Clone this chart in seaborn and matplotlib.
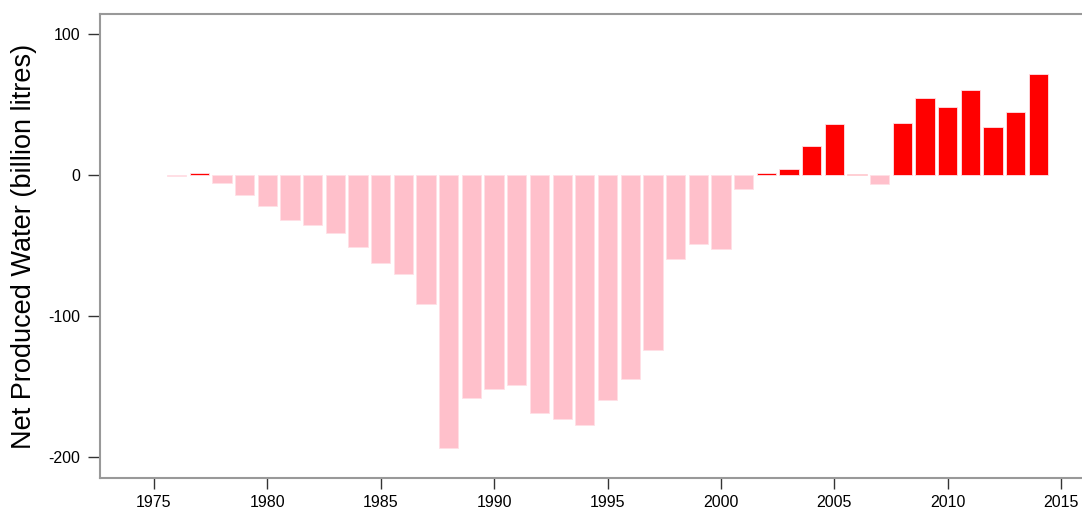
import numpy as np
import pandas as pd
import matplotlib
matplotlib.use("Agg")
import matplotlib.pyplot as plt
import seaborn as sns

years = list(range(1976, 2015))
net_water = [-0.4, 1.6, -5.4, -14.0, -21.8, -31.7, -35.2, -40.9, -51.3, -62.6,
             -70.4, -91.6, -193.5, -157.9, -151.5, -148.9, -168.9, -173.2, -177.0, -159.8,
             -144.9, -123.9, -59.6, -49.0, -52.7, -9.7, 1.2, 4.3, 20.6, 36.2,
             0.6, -6.2, 36.9, 54.8, 48.0, 60.1, 34.0, 44.5, 71.8]
x_ticks = [1975, 1980, 1985, 1990, 1995, 2000, 2005, 2010, 2015]
y_ticks = [-200, -100, 0, 100]

df = pd.DataFrame({"year": years, "value": net_water})
df["sign"] = np.where(df["value"] >= 0, "pos", "neg")

sns.set_style("white")
plt.rcParams["font.family"] = ["Liberation Sans", "DejaVu Sans"]
plt.rcParams["axes.unicode_minus"] = False

fig = plt.figure(figsize=(10.82, 5.13), dpi=100)
ax = fig.add_axes([100/1082, (513-478)/513, 1 - 100/1082 + 0.01, (478-14)/513])

sns.barplot(data=df, x="year", y="value", hue="sign", native_scale=True,
            palette={"pos": "#FF0000", "neg": "#FFC0CB"}, dodge=False, saturation=1,
            width=0.85, legend=False, ax=ax, linewidth=0.6, edgecolor="#FFE0E6")

ax.set_xlim(1972.62, 2016.4)
ax.set_ylim(-214.9, 114.2)
ax.set_xticks(x_ticks)
ax.set_yticks(y_ticks)
ax.set_xlabel("")
ax.set_ylabel("Net Produced Water (billion litres)", fontsize=19.5, labelpad=8, color="black")

for s in ["left", "top", "bottom"]:
    ax.spines[s].set_color("#999999")
    ax.spines[s].set_linewidth(1.5)
ax.spines["right"].set_visible(False)

ax.tick_params(axis="y", direction="out", length=9, width=1, color="#333333",
               labelsize=11.5, labelcolor="black", left=True, pad=5)
ax.tick_params(axis="x", direction="out", length=8, width=1, color="#333333",
               labelsize=11.5, labelcolor="black", bottom=True, pad=4)

fig.savefig("out.png", dpi=100)
